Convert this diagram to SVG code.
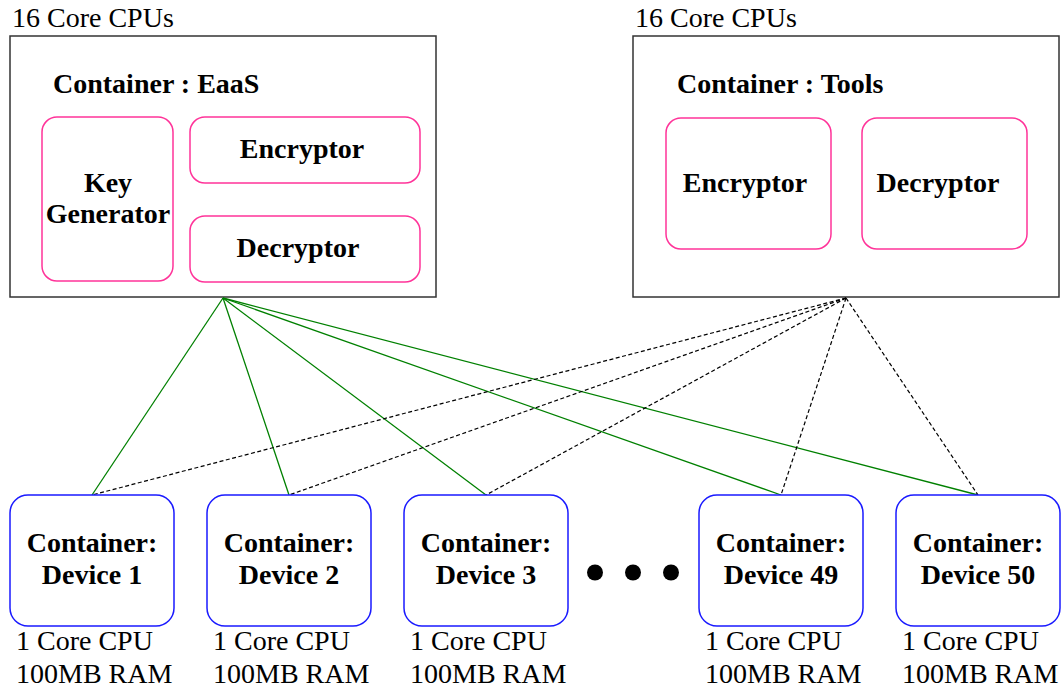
<svg xmlns="http://www.w3.org/2000/svg" width="1064" height="692" viewBox="0 0 1064 692">
<style>
.outer{fill:#fff;stroke:#333;stroke-width:1.5}
.pink{fill:#fff;stroke:#ff3399;stroke-width:1.5}
.dev{fill:#fff;stroke:#1a1aff;stroke-width:1.5}
.t{font-family:"Liberation Serif","Times New Roman",serif;font-size:28px;fill:#000}
.b{font-family:"Liberation Serif","Times New Roman",serif;font-size:28px;font-weight:bold;fill:#000}
.m{text-anchor:middle}
.g{stroke:#008000;stroke-width:1.3;fill:none}
.d{stroke:#000;stroke-width:1.2;stroke-dasharray:4 2.5;fill:none}
</style>
<rect width="1064" height="692" fill="#fff"/>
<g id="eaas">
<text class="t" x="12" y="27">16 Core CPUs</text>
<rect class="outer" x="10" y="36" width="426" height="261"/>
<text class="b" x="53" y="93">Container : EaaS</text>
</g>
<g id="keygen">
<rect class="pink" x="42" y="117" width="131" height="164" rx="15"/>
<text class="b m" x="108" y="192">Key</text>
<text class="b m" x="108" y="223">Generator</text>
</g>
<g id="eaas-encryptor">
<rect class="pink" x="190" y="117" width="230" height="66" rx="15"/>
<text class="b m" x="302" y="158">Encryptor</text>
</g>
<g id="eaas-decryptor">
<rect class="pink" x="190" y="216" width="230" height="66" rx="15"/>
<text class="b m" x="298" y="257">Decryptor</text>
</g>
<g id="tools">
<text class="t" x="635" y="27">16 Core CPUs</text>
<rect class="outer" x="633" y="36" width="426" height="261"/>
<text class="b" x="677" y="93">Container : Tools</text>
</g>
<g id="tools-encryptor">
<rect class="pink" x="666" y="118" width="165" height="131" rx="15"/>
<text class="b m" x="745" y="192">Encryptor</text>
</g>
<g id="tools-decryptor">
<rect class="pink" x="862" y="118" width="165" height="131" rx="15"/>
<text class="b m" x="938" y="192">Decryptor</text>
</g>
<g id="connectors">
<line class="g" x1="223" y1="298" x2="92" y2="495"/>
<line class="g" x1="223" y1="298" x2="289" y2="495"/>
<line class="g" x1="223" y1="298" x2="486" y2="495"/>
<line class="g" x1="223" y1="298" x2="781" y2="495"/>
<line class="g" x1="223" y1="298" x2="978" y2="495"/>
<line class="d" x1="846" y1="298" x2="92" y2="495"/>
<line class="d" x1="846" y1="298" x2="289" y2="495"/>
<line class="d" x1="846" y1="298" x2="486" y2="495"/>
<line class="d" x1="846" y1="298" x2="781" y2="495"/>
<line class="d" x1="846" y1="298" x2="978" y2="495"/>
</g>
<g id="device1">
<rect class="dev" x="10" y="495" width="164" height="131" rx="18"/>
<text class="b m" x="92" y="552">Container:</text>
<text class="b m" x="92" y="584">Device 1</text>
<text class="t" x="16" y="650">1 Core CPU</text>
<text class="t" x="16" y="683">100MB RAM</text>
</g>
<g id="device2">
<rect class="dev" x="207" y="495" width="164" height="131" rx="18"/>
<text class="b m" x="289" y="552">Container:</text>
<text class="b m" x="289" y="584">Device 2</text>
<text class="t" x="213" y="650">1 Core CPU</text>
<text class="t" x="213" y="683">100MB RAM</text>
</g>
<g id="device3">
<rect class="dev" x="404" y="495" width="164" height="131" rx="18"/>
<text class="b m" x="486" y="552">Container:</text>
<text class="b m" x="486" y="584">Device 3</text>
<text class="t" x="410" y="650">1 Core CPU</text>
<text class="t" x="410" y="683">100MB RAM</text>
</g>
<g id="ellipsis">
<circle cx="595" cy="572.5" r="8"/>
<circle cx="633" cy="572.5" r="8"/>
<circle cx="671" cy="572.5" r="8"/>
</g>
<g id="device49">
<rect class="dev" x="699" y="495" width="164" height="131" rx="18"/>
<text class="b m" x="781" y="552">Container:</text>
<text class="b m" x="781" y="584">Device 49</text>
<text class="t" x="705" y="650">1 Core CPU</text>
<text class="t" x="705" y="683">100MB RAM</text>
</g>
<g id="device50">
<rect class="dev" x="896" y="495" width="164" height="131" rx="18"/>
<text class="b m" x="978" y="552">Container:</text>
<text class="b m" x="978" y="584">Device 50</text>
<text class="t" x="902" y="650">1 Core CPU</text>
<text class="t" x="902" y="683">100MB RAM</text>
</g>
</svg>
